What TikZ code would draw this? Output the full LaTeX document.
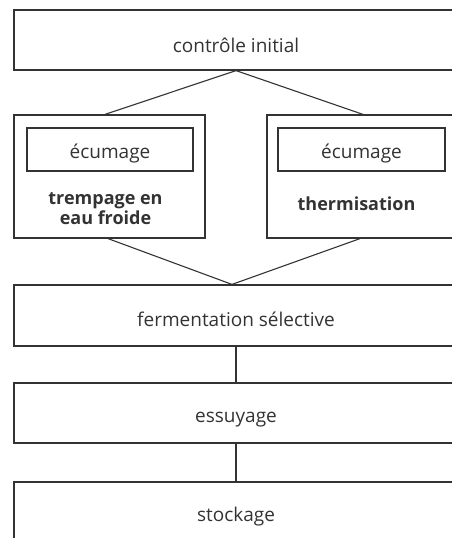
\documentclass[tikz,border=0pt]{standalone}
\usepackage{fontspec}
\setmainfont{Open Sans}
\definecolor{ink}{HTML}{333333}
\begin{document}
\begin{tikzpicture}[x=1pt,y=-1pt,
  box/.style={draw=ink,line width=1.2pt,rectangle,inner sep=0pt,font=\fontsize{19}{22}\selectfont,text=ink,text depth=0pt,text height=20pt},
  lbl/.style={font=\fontsize{18}{20}\selectfont\bfseries,text=ink,inner sep=0pt,anchor=base},
  conn/.style={draw=ink,line width=1.1pt}]
\useasboundingbox (0,0) rectangle (452,538);
\clip (0,0) rectangle (452,538);
\node[box,minimum width=444pt,minimum height=60pt,text height=24pt] (ctrl) at (236,40) {contrôle initial};
\node[box,minimum width=191pt,minimum height=123pt] (left) at (109.5,176.5) {};
\node[box,minimum width=191pt,minimum height=123pt] (right) at (362.5,176.5) {};
\node[box,minimum width=166pt,minimum height=43pt,text height=18pt] (lecu) at (110,149.5) {écumage};
\node[box,minimum width=167pt,minimum height=43pt,text height=18pt] (recu) at (361.5,149.5) {écumage};
\node[lbl] (ltxta) at (105.5,204) {trempage en};
\node[lbl] (ltxtb) at (105.5,224) {eau froide};
\node[lbl] (rtxt) at (356.5,210) {thermisation};
\node[box,minimum width=444pt,minimum height=61pt,text height=22pt] (ferm) at (236,315.5) {fermentation sélective};
\node[box,minimum width=444pt,minimum height=60pt,text height=18pt] (ess) at (236,413) {essuyage};
\node[box,minimum width=444pt,minimum height=60pt,text height=18pt] (stock) at (236,512) {stockage};
\draw[conn] ([xshift=-4.5pt]left.north) -- (ctrl.south) -- ([xshift=0.5pt]right.north);
\draw[conn] ([xshift=-1.5pt]left.south) -- ([xshift=-4pt]ferm.north) -- ([xshift=-2.5pt]right.south);
\draw[conn] (ferm.south) -- (ess.north);
\draw[conn] (ess.south) -- (stock.north);
\end{tikzpicture}
\end{document}
